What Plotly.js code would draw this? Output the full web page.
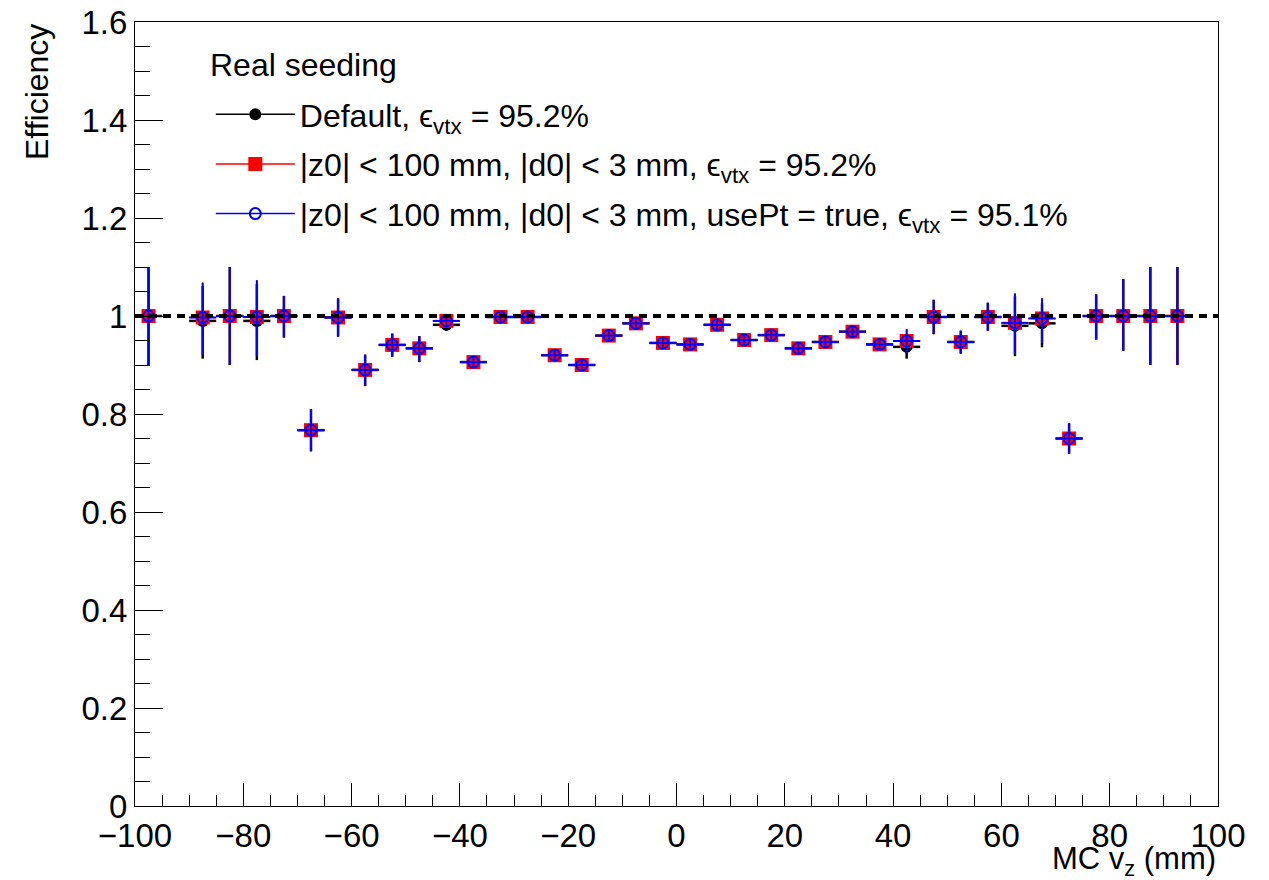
<!DOCTYPE html>
<html>
<head>
<meta charset="utf-8">
<script src="https://cdn.plot.ly/plotly-3.0.1.min.js"></script>
<style>html,body{margin:0;padding:0;background:#fff;}#chart{width:1269px;height:880px;}</style>
</head>
<body>
<div id="chart"></div>
<script>
// bin centres of MC v_z (mm)
const vz = [-97.5, -87.5, -82.5, -77.5, -72.5, -67.5, -62.5, -57.5, -52.5, -47.5,
            -42.5, -37.5, -32.5, -27.5, -22.5, -17.5, -12.5, -7.5, -2.5, 2.5,
            7.5, 12.5, 17.5, 22.5, 27.5, 32.5, 37.5, 42.5, 47.5, 52.5,
            57.5, 62.5, 67.5, 72.5, 77.5, 82.5, 87.5, 92.5];
// bin half widths
const vzHalfWidth = [2.5, 2.5, 2.5, 2.5, 2.5, 2.5, 2.5, 2.5, 2.5, 2.5,
                     2.5, 2.5, 2.5, 2.5, 2.5, 2.5, 2.5, 2.5, 2.5, 2.5,
                     2.5, 2.5, 2.5, 2.5, 2.5, 2.5, 2.5, 2.5, 2.5, 2.5,
                     2.5, 2.5, 2.5, 2.5, 2.5, 2.5, 2.5, 2.5];
const effDefault = [1.000, 0.990, 1.000, 0.990, 1.000, 0.767, 0.997, 0.890, 0.941, 0.934,
                    0.982, 0.906, 0.998, 0.998, 0.920, 0.900, 0.960, 0.985, 0.945, 0.942,
                    0.982, 0.951, 0.961, 0.934, 0.947, 0.968, 0.942, 0.937, 0.998, 0.947,
                    0.998, 0.980, 0.985, 0.750, 1.000, 1.000, 1.000, 1.000];
const effCut = [1.000, 0.997, 1.000, 0.998, 1.000, 0.767, 0.997, 0.890, 0.941, 0.934,
                0.990, 0.906, 0.998, 0.998, 0.920, 0.900, 0.960, 0.985, 0.945, 0.942,
                0.982, 0.951, 0.961, 0.934, 0.947, 0.968, 0.942, 0.949, 0.998, 0.947,
                0.998, 0.986, 0.995, 0.750, 1.000, 1.000, 1.000, 1.000];
const effUsePt = [1.000, 0.997, 1.000, 0.998, 1.000, 0.767, 0.997, 0.890, 0.941, 0.934,
                  0.990, 0.906, 0.998, 0.998, 0.920, 0.900, 0.960, 0.985, 0.945, 0.942,
                  0.982, 0.951, 0.961, 0.934, 0.947, 0.968, 0.942, 0.949, 0.998, 0.947,
                  0.998, 0.986, 0.995, 0.750, 1.000, 1.000, 1.000, 1.000];
const errUp = [0.100, 0.071, 0.100, 0.075, 0.041, 0.043, 0.039, 0.031, 0.023, 0.025,
               0.012, 0.012, 0.008, 0.008, 0.010, 0.010, 0.009, 0.008, 0.009, 0.009,
               0.009, 0.010, 0.009, 0.010, 0.010, 0.009, 0.011, 0.024, 0.035, 0.023,
               0.029, 0.060, 0.041, 0.031, 0.044, 0.075, 0.100, 0.100];
const errDown = [0.100, 0.077, 0.100, 0.080, 0.044, 0.043, 0.039, 0.033, 0.024, 0.028,
                 0.012, 0.012, 0.008, 0.008, 0.010, 0.010, 0.009, 0.008, 0.009, 0.009,
                 0.009, 0.010, 0.009, 0.010, 0.010, 0.009, 0.011, 0.024, 0.035, 0.024,
                 0.028, 0.062, 0.049, 0.031, 0.048, 0.071, 0.100, 0.100];
const legendHeader = 'Real seeding';
const seriesNames = [
  'Default, ϵ<sub>vtx</sub> = 95.2%',
  '|z0| &lt; 100 mm, |d0| &lt; 3 mm, ϵ<sub>vtx</sub> = 95.2%',
  '|z0| &lt; 100 mm, |d0| &lt; 3 mm, usePt = true, ϵ<sub>vtx</sub> = 95.1%'
];
const referenceLevel = 1;
const xRange = [-100, 100];
const yRange = [0, 1.6];

const FONT = 'Liberation Sans, Arial, Helvetica, sans-serif';

function dataTrace(y, color, marker, lw) {
  return {
    x: vz, y: y, type: 'scatter', mode: 'markers', showlegend: false,
    marker: marker,
    error_y: {type: 'data', symmetric: false, array: errUp, arrayminus: errDown, color: color, thickness: lw, width: 0},
    error_x: {type: 'data', array: vzHalfWidth, color: color, thickness: lw, width: 0},
    hoverinfo: 'x+y'
  };
}
function legendTrace(name, color, marker, grp) {
  return {
    x: [null], y: [null], type: 'scatter', mode: 'lines+markers', name: name,
    legendgroup: grp, line: {color: color, width: 1.5}, marker: marker
  };
}

const mkDefault = {symbol: 'circle', size: 12, color: '#000000'};
const mkCut = {symbol: 'square', size: 14, color: '#ff0000'};
const mkUsePt = {symbol: 'circle-open', size: 11, color: '#0000ff', line: {color: '#0000ff', width: 2}};

const traces = [
  dataTrace(effDefault, '#000000', mkDefault, 2.5),
  dataTrace(effCut, '#ff0000', mkCut, 1.5),
  dataTrace(effUsePt, '#0000ff', mkUsePt, 2),
  legendTrace(seriesNames[0], '#000000', mkDefault, 'a'),
  legendTrace(seriesNames[1], '#ff0000', mkCut, 'b'),
  legendTrace(seriesNames[2], '#0000ff', mkUsePt, 'c')
];

const layout = {
  width: 1269, height: 880,
  margin: {l: 135, r: 51, t: 22, b: 74},
  paper_bgcolor: '#ffffff', plot_bgcolor: '#ffffff',
  font: {family: FONT, size: 33, color: '#000000'},
  showlegend: true,
  legend: {
    x: 0.07, y: 0.917, xanchor: 'left', yanchor: 'top',
    bgcolor: 'rgba(0,0,0,0)', borderwidth: 0,
    font: {family: FONT, size: 32, color: '#000000'},
    itemwidth: 79, tracegroupgap: 5, traceorder: 'grouped'
  },
  xaxis: {
    range: xRange, showgrid: false, zeroline: false,
    showline: true, linecolor: '#000000', linewidth: 1, mirror: true,
    ticks: 'inside', ticklen: 23, tickwidth: 1, tickcolor: '#000000',
    tick0: -100, dtick: 20,
    minor: {ticks: 'inside', ticklen: 11, dtick: 5, tick0: -100, tickcolor: '#000000', showgrid: false},
    tickfont: {family: FONT, size: 33, color: '#000000'}
  },
  yaxis: {
    range: yRange, showgrid: false, zeroline: false,
    showline: true, linecolor: '#000000', linewidth: 1, mirror: true,
    ticks: 'inside', ticklen: 28, tickwidth: 1, tickcolor: '#000000',
    tick0: 0, dtick: 0.2,
    minor: {ticks: 'inside', ticklen: 15, dtick: 0.05, tick0: 0, tickcolor: '#000000', showgrid: false},
    tickfont: {family: FONT, size: 33, color: '#000000'}
  },
  shapes: [{
    type: 'line', xref: 'x', yref: 'y', x0: xRange[0], x1: xRange[1], y0: referenceLevel, y1: referenceLevel,
    line: {color: '#000000', width: 4, dash: '8px,6px'}, layer: 'above'
  }],
  annotations: [
    {text: legendHeader, xref: 'paper', yref: 'paper', x: 0.0675, y: 0.945, xanchor: 'left', yanchor: 'middle',
     showarrow: false, font: {family: FONT, size: 32, color: '#000000'}},
    {text: 'Efficiency', xref: 'paper', yref: 'paper', x: 0, y: 1, xanchor: 'center', yanchor: 'top',
     xshift: -98, textangle: -90, showarrow: false, font: {family: FONT, size: 32, color: '#000000'}},
    {text: 'MC v<sub>z</sub> (mm)', xref: 'paper', yref: 'paper', x: 1, y: 0, xanchor: 'right', yanchor: 'top',
     yshift: -33, showarrow: false, font: {family: FONT, size: 31, color: '#000000'}}
  ]
};

Plotly.newPlot('chart', traces, layout, {displayModeBar: false, staticPlot: true});
</script>
</body>
</html>
